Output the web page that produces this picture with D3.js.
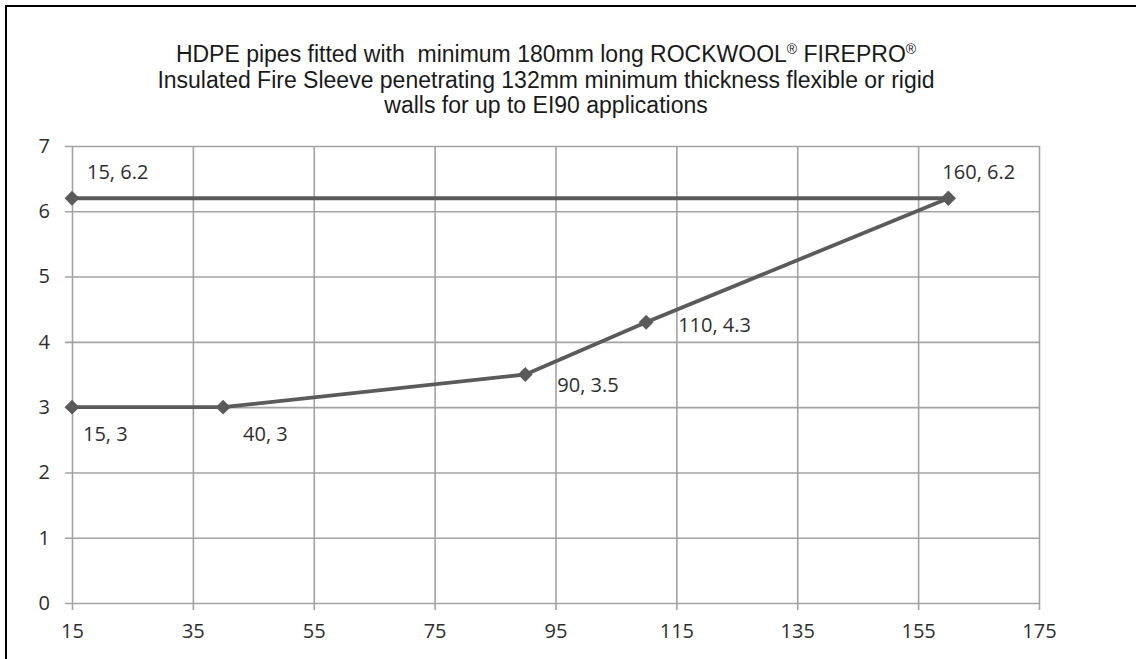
<!DOCTYPE html>
<html>
<head>
<meta charset="utf-8">
<script src="https://cdn.jsdelivr.net/npm/d3@7"></script>
<style>
  html, body { margin: 0; padding: 0; background: #fff; }
  svg { display: block; }
</style>
</head>
<body>
<svg id="chart" width="1136" height="659"></svg>
<script>
// ---- data ----
const titleLines = [
  "HDPE pipes fitted with\u00a0 minimum 180mm long ROCKWOOL\u00ae FIREPRO\u00ae",
  "Insulated Fire Sleeve penetrating 132mm minimum thickness flexible or rigid",
  "walls for up to EI90 applications"
];
const xTicks = [15, 35, 55, 75, 95, 115, 135, 155, 175];
const yTicks = [0, 1, 2, 3, 4, 5, 6, 7];
const seriesUpperX = [15, 160];
const seriesUpperY = [6.2, 6.2];
const seriesLowerX = [15, 40, 90, 110, 160];
const seriesLowerY = [3, 3, 3.5, 4.3, 6.2];

// ---- layout ----
const svg = d3.select("#chart");
const W = 1136, H = 659;
const pL = 72, pR = 1039, pT = 146, pB = 603;
const x = d3.scaleLinear().domain([15, 175]).range([pL, pR]);
const y = d3.scaleLinear().domain([0, 7]).range([pB, pT]);

const gridColor = "#a3a3a3";
const lineColor = "#5b5b5b";
const textColor = "#2e2e2e";
const labelFont = "'Open Sans', 'Noto Sans', sans-serif";
const labelSize = 20;

// outer border
svg.append("rect").attr("x", 6).attr("y", 6).attr("width", W + 10).attr("height", H + 10)
  .attr("fill", "none").attr("stroke", "#000").attr("stroke-width", 2);

// title (with superscript ® marks)
const tt = svg.append("g").selectAll("text").data(titleLines).join("text")
  .attr("x", 546).attr("y", (d, i) => 62 + i * 25.5)
  .attr("text-anchor", "middle")
  .attr("font-family", "'Liberation Sans', Arial, sans-serif")
  .attr("font-size", 23)
  .attr("fill", "#1a1a1a");
tt.each(function(d) {
  const el = d3.select(this);
  const parts = d.split("\u00ae");
  parts.forEach((p, i) => {
    if (p.length) el.append("tspan").text(p);
    if (i < parts.length - 1) {
      el.append("tspan").attr("font-size", 14).attr("baseline-shift", 8).text("\u00ae");
    }
  });
});

// y axis with gridlines
const gy = svg.append("g").attr("transform", `translate(${pR},0)`)
  .call(d3.axisLeft(y).tickValues(yTicks).tickSize(pR - pL + 7).tickFormat(d3.format("d")).tickPadding(15));
gy.select(".domain").remove();
gy.selectAll(".tick line").attr("stroke", gridColor).attr("stroke-width", 1.6);
gy.selectAll(".tick text")
  .attr("font-family", labelFont).attr("font-size", labelSize).attr("fill", textColor);

// x axis with gridlines
const gx = svg.append("g").attr("transform", `translate(0,${pT})`)
  .call(d3.axisBottom(x).tickValues(xTicks).tickSize(pB - pT + 7).tickFormat(d3.format("d")).tickPadding(14));
gx.select(".domain").remove();
gx.selectAll(".tick line").attr("stroke", gridColor).attr("stroke-width", 1.6);
gx.selectAll(".tick text")
  .attr("font-family", labelFont).attr("font-size", labelSize).attr("fill", textColor);

// series
const line = d3.line().x(d => x(d[0])).y(d => y(d[1]));
const upper = d3.zip(seriesUpperX, seriesUpperY);
const lower = d3.zip(seriesLowerX, seriesLowerY);

[upper, lower].forEach(s => {
  svg.append("path").datum(s).attr("d", line)
    .attr("fill", "none").attr("stroke", lineColor).attr("stroke-width", 3.8)
    .attr("stroke-linejoin", "round");
});

[upper, lower].forEach(s => {
  svg.append("g").selectAll("path").data(s).join("path")
    .attr("transform", d => `translate(${x(d[0])},${y(d[1])}) rotate(45)`)
    .attr("d", d3.symbol().type(d3.symbolSquare).size(110))
    .attr("fill", lineColor);
});

// data labels (placement offsets relative to each point)
const placeUpper = [[15, -19], [-6, -19]];
const placeLower = [[11, 34], [20, 34], [32, 17.5], [32, 10], null];
const fmt = d => `${d[0]}, ${d[1]}`;
function labels(s, place) {
  svg.append("g").selectAll("text").data(s.map((d, i) => [d, place[i]]).filter(e => e[1])).join("text")
    .attr("x", e => x(e[0][0]) + e[1][0])
    .attr("y", e => y(e[0][1]) + e[1][1])
    .attr("font-family", labelFont).attr("font-size", labelSize).attr("fill", textColor)
    .text(e => fmt(e[0]));
}
labels(upper, placeUpper);
labels(lower, placeLower);
</script>
</body>
</html>
